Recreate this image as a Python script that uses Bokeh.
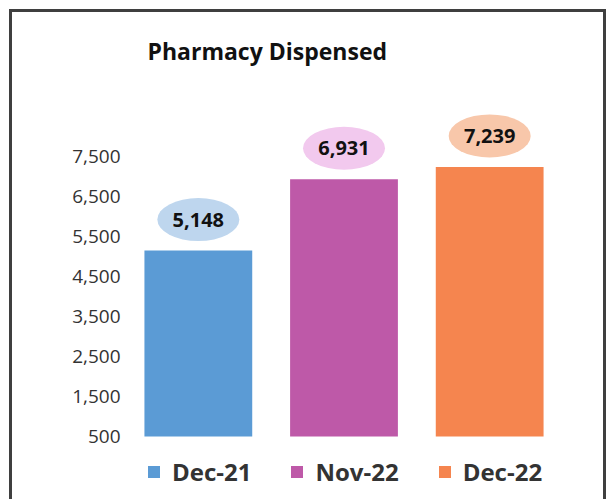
from bokeh.plotting import figure
from bokeh.models import (ColumnDataSource, FactorRange, Range1d, FixedTicker, NumeralTickFormatter,
                          Legend, LegendItem, Label)
from bokeh.core.properties import value
from bokeh.embed import file_html
from bokeh.resources import INLINE

# ---- data ----
title_text = "Pharmacy Dispensed"
months = ["Dec-21", "Nov-22", "Dec-22"]
dispensed = [5148, 6931, 7239]
bar_colors = ["#5B9BD5", "#BE59A8", "#F5854F"]
bubble_colors = ["#BED6EE", "#F2C9EE", "#F8C7AA"]
y_ticks = [500, 1500, 2500, 3500, 4500, 5500, 6500, 7500]
axis_min = 500      # bars start here (value axis minimum)
view_min = -1075    # lower edge of the plotting area (room for the legend)
view_max = 11100    # upper edge of the plotting area (room for the title)
label_lift = 775    # data units between bar top and bubble centre

FONT = "Open Sans"

src = ColumnDataSource(dict(
    month=months,
    value=dispensed,
    color=bar_colors,
    bubble=bubble_colors,
    label=[f"{v:,}" for v in dispensed],
    label_y=[v + label_lift for v in dispensed],
))

BORDER = "3px solid #3f3f3f"
p = figure(
    title=None,
    frame_width=437, frame_height=487,
    x_range=FactorRange(*months, range_padding=0),
    y_range=Range1d(view_min, view_max),
    output_backend="svg", toolbar_location=None,
    min_border_left=113, min_border_right=41, min_border_top=0, min_border_bottom=0,
    styles={"margin-left": "9px", "margin-top": "9px",
            "border-left": BORDER, "border-top": BORDER, "border-right": BORDER},
)
p.outline_line_color = None
p.background_fill_color = "white"
p.border_fill_color = "white"
p.xgrid.visible = False
p.ygrid.visible = False
p.xaxis.visible = False

ya = p.yaxis[0]
ya.ticker = FixedTicker(ticks=y_ticks)
ya.formatter = NumeralTickFormatter(format="0,0")
ya.axis_line_color = None
ya.major_tick_line_color = None
ya.minor_tick_line_color = None
ya.major_tick_out = 0
ya.major_tick_in = 0
ya.major_label_text_font = FONT
ya.major_label_text_font_size = "19px"
ya.major_label_text_color = "#333333"
ya.major_label_standoff = 5

bars = p.vbar(x="month", top="value", bottom=axis_min, width=0.74, source=src,
              fill_color="color", line_color=None)

p.ellipse(x="month", y="label_y", width=82, height=43, width_units="screen", height_units="screen",
          source=src, fill_color="bubble", line_color=None)
p.text(x="month", y="label_y", text="label", source=src, text_align="center", text_baseline="middle",
       text_font=value(FONT), text_font_size="20px", text_font_style="bold", text_color="#111111")

title = Label(x=0.151, y=10150, x_units="data", y_units="data", text=title_text,
              text_align="left", text_baseline="middle", text_font=FONT,
              text_font_size="23px", text_font_style="bold", text_color="#111111")
p.add_layout(title)

legend = Legend(items=[LegendItem(label=m, renderers=[bars], index=i) for i, m in enumerate(months)],
                orientation="horizontal", location=(21, 11))
legend.border_line_color = None
legend.background_fill_alpha = 0
legend.glyph_width = 15
legend.glyph_height = 15
legend.label_standoff = 11
legend.spacing = 38
legend.margin = 0
legend.padding = 0
legend.label_text_font = FONT
legend.label_text_font_size = "24px"
legend.label_text_font_style = "bold"
legend.label_text_color = "#333333"
p.add_layout(legend, "center")

open("out.html", "w").write(file_html(p, INLINE))
